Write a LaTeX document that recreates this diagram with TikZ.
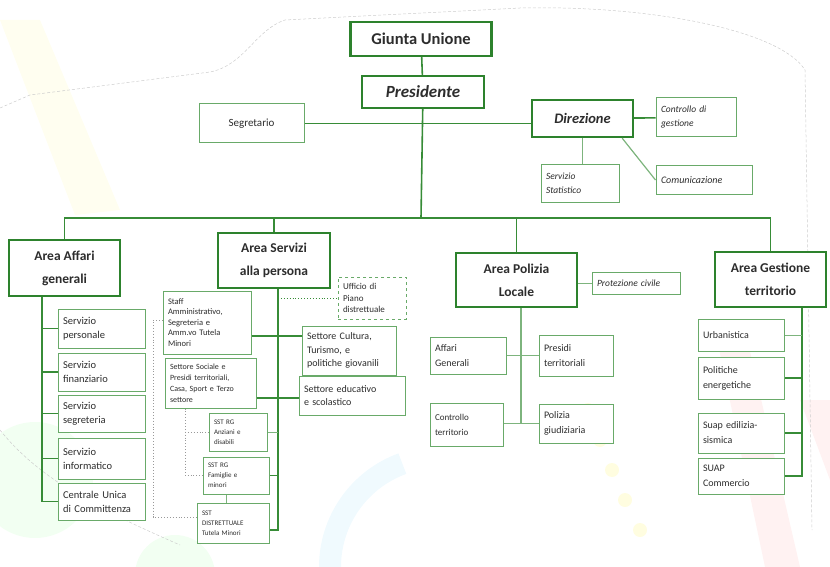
\documentclass[tikz,border=0pt]{standalone}
\usepackage{fontspec}
\setmainfont{Carlito}

\definecolor{gdark}{RGB}{45,130,45}
\definecolor{gline}{RGB}{55,140,55}
\definecolor{glight}{RGB}{105,170,105}
\definecolor{txt}{RGB}{45,45,45}

\begin{document}
\begin{tikzpicture}[x=1pt, y=-1pt,
    bigbox/.style={draw=gdark, line width=2.4pt, fill=white, text=txt, align=center,
        font=\bfseries\fontsize{13.5}{23}\selectfont},
    sbox/.style={draw=glight, line width=1pt, fill=white, text=txt, align=left,
        inner xsep=5pt, inner ysep=2pt},
    wh/.style 2 args={minimum width=#1pt, minimum height=#2pt, text width=#1pt-10pt},
    fs/.style 2 args={font=\fontsize{#1}{#2}\selectfont},
    fsi/.style 2 args={font=\itshape\fontsize{#1}{#2}\selectfont},
    conn/.style={draw=gline, line width=1.6pt},
    thinline/.style={draw=gline!65, line width=0.8pt},
    dotline/.style={draw=gray!80, dotted, line width=0.9pt}]
    \useasboundingbox (0,0) rectangle (830,567);

    % Background
    \fill[yellow!6] (0,20) -- (40,20) -- (120,210) -- (75,215) -- cycle;
    \fill[green!5] (35,480) circle (58pt);
    \fill[green!5] (175,575) circle (40pt);
    \draw[cyan!6, line width=22pt] (330,567) arc (180:110:110pt);
    \fill[red!5] (715,330) -- (745,330) -- (800,567) -- (765,567) -- cycle;
    \fill[red!5] (800,400) -- (830,400) -- (830,480) -- cycle;
    \foreach \p in {(600,440),(612,470),(625,500),(640,530),(588,410)}
        \fill[yellow!12] \p circle (7pt);
    \draw[gray!40, densely dashed, line width=0.5pt]
        (0,108) -- (30,95) -- (210,72) .. controls (245,65) and (255,30) .. (285,20)
        -- (520,8) .. controls (650,5) and (780,30) .. (805,70) -- (812,530);
    \draw[gray!40, densely dashed, line width=0.5pt]
        (0,430) .. controls (40,480) and (100,510) .. (180,545);

    % Nodes
    \node[bigbox, minimum width=141pt, minimum height=34pt, font=\bfseries\fontsize{16.5}{18}\selectfont] (giunta) at (421,39) {Giunta Unione};
    \node[bigbox, minimum width=122pt, minimum height=32pt, font=\bfseries\itshape\fontsize{17}{19}\selectfont] (pres) at (423,92) {Presidente};
    \node[sbox, minimum width=105pt, minimum height=39pt, align=center, fs={11}{13}] (segr) at (251.5,123.5) {Segretario};
    \node[bigbox, minimum width=101pt, minimum height=37pt, font=\bfseries\itshape\fontsize{14.5}{16}\selectfont] (dir) at (582.5,118.5) {Direzione};
    \node[sbox, wh={80}{39}, fsi={9.5}{14}] (cdg) at (696,117.5) {Controllo di\\gestione};
    \node[sbox, wh={78}{37}, fsi={9.5}{14}] (stat) at (580,183.5) {Servizio\\Statistico};
    \node[sbox, wh={96}{28}, fsi={10}{13}] (com) at (704,180) {Comunicazione};

    \node[bigbox, minimum width=111pt, minimum height=56pt] (aag) at (64.5,268) {Area Affari\\generali};
    \node[bigbox, minimum width=112pt, minimum height=55pt] (asp) at (274,260.5) {Area Servizi\\alla persona};
    \node[bigbox, minimum width=121pt, minimum height=54pt] (apl) at (516.5,280) {Area Polizia\\Locale};
    \node[bigbox, minimum width=111pt, minimum height=55pt] (agt) at (770.5,279.5) {Area Gestione\\territorio};

    \node[sbox, wh={87}{39}, fs={10.5}{14}] (spers) at (101.5,328.5) {Servizio\\personale};
    \node[sbox, wh={87}{38}, fs={10.5}{14}] (sfin) at (101.5,372) {Servizio\\finanziario};
    \node[sbox, wh={87}{37}, fs={10.5}{14}] (sseg) at (101.5,413.5) {Servizio\\segreteria};
    \node[sbox, wh={87}{41}, fs={10.5}{14}] (sinf) at (101.5,458.5) {Servizio\\informatico};
    \node[sbox, wh={87}{37}, fs={10.5}{14}] (cuc) at (101.5,501.5) {Centrale Unica\\di Committenza};

    \node[sbox, wh={88}{63}, fs={8.5}{10.5}] (staff) at (207,322.5) {Staff\\Amministrativo,\\Segreteria e\\Amm.vo Tutela\\Minori};
    \node[sbox, wh={68}{42}, fs={9}{11.5}, dashed] (upd) at (372,298) {Ufficio di\\Piano\\distrettuale};
    \node[sbox, wh={94}{49}, fs={10}{13.5}] (scult) at (349,350.5) {Settore Cultura,\\Turismo, e\\politiche giovanili};
    \node[sbox, wh={91}{50}, fs={8}{11}] (ssoc) at (210.5,383) {Settore Sociale e\\Presidi territoriali,\\Casa, Sport e Terzo\\settore};
    \node[sbox, wh={106}{39}, fs={10}{13.5}] (sedu) at (352,395.5) {Settore educativo\\e scolastico};
    \node[sbox, wh={58}{38}, fs={7}{10}] (sanz) at (238,432) {SST RG\\Anziani e\\disabili};
    \node[sbox, wh={66}{37}, fs={7}{10}] (sfam) at (236,475.5) {SST RG\\Famiglie e\\minori};
    \node[sbox, wh={72}{40}, fs={7}{10}] (sdist) at (233,523) {SST\\DISTRETTUALE\\Tutela Minori};

    \node[sbox, wh={88}{22}, fsi={9.5}{11}] (protc) at (636,283) {Protezione civile};
    \node[sbox, wh={76}{37}, fs={10}{15}] (pag) at (468,355.5) {Affari\\Generali};
    \node[sbox, wh={74}{41}, fs={10}{15}] (ppres) at (576,355.5) {Presidi\\territoriali};
    \node[sbox, wh={73}{43}, fs={9}{15}] (pctrl) at (466.5,424.5) {Controllo\\territorio};
    \node[sbox, wh={74}{39}, fs={10}{15}] (pgiu) at (576,423.5) {Polizia\\giudiziaria};

    \node[sbox, wh={86}{32}, fs={10}{15}] (urb) at (741,335) {Urbanistica};
    \node[sbox, wh={86}{42}, fs={10}{15}] (pen) at (741,378) {Politiche\\energetiche};
    \node[sbox, wh={86}{40}, fs={10}{15}] (suap) at (741,433) {Suap edilizia-\\sismica};
    \node[sbox, wh={86}{36}, fs={10}{15}] (suapc) at (741,476) {SUAP\\Commercio};

    \coordinate (bus) at (421,218);
    \coordinate (ag-s) at ([xshift=-22.5pt]aag.south);
    \coordinate (sp-s) at ([xshift=4pt]asp.south);
    \coordinate (pl-s) at ([xshift=4.5pt]apl.south);
    \coordinate (gt-s) at ([xshift=31.5pt]agt.south);
    \coordinate (ss-d) at ([xshift=-25.5pt]ssoc.south);
    \coordinate (m1) at (278,336);
    \coordinate (m2) at (278,398);
    \coordinate (dl) at (153,320);

    % Lines
    \draw[conn] (giunta) -- (pres);
    \draw[conn] (pres) -- (bus);
    \draw[conn] (segr.east) -- (segr.east -| dir.west);
    \draw[conn] (dir) -- (cdg);
    \draw[thinline, line width=1.2pt] (dir.south) -- (stat.north -| dir.south);
    \draw[thinline, line width=1.2pt] ([xshift=-12pt]dir.south east) -- (com.west);
    \draw[conn] (aag.north) -- (aag.north |- bus) -- (agt.north |- bus) -- (agt.north);
    \draw[conn] (asp.north |- bus) -- (asp.north);
    \draw[conn] (apl.north |- bus) -- (apl.north);

    \draw[conn] (ag-s) |- (cuc.west);
    \foreach \n in {spers,sfin,sseg,sinf}
        \draw[conn] (ag-s |- \n.west) -- (\n.west);

    \draw[conn] (sp-s) |- ([yshift=-7pt]sdist.east);
    \draw[dotline, draw=gline] (sp-s |- upd.west) -- (upd.west);
    \draw[conn] (m1 -| staff.east) -- (m1 -| scult.west);
    \draw[conn] (m2 -| ssoc.east) -- (m2 -| sedu.west);
    \draw[thinline] (sp-s |- sanz.east) -- (sanz.east);
    \draw[conn] (sp-s |- sfam.east) -- (sfam.east);
    \draw[thinline] ([xshift=-10pt]sfam.south) -- ([xshift=-10pt]sfam.south |- sdist.north);
    \draw[dotline] (ss-d) |- (sfam.west);
    \draw[dotline] (ss-d |- sanz.west) -- (sanz.west);
    \draw[dotline] (dl -| staff.west) -- (dl) |- ([yshift=6pt]sdist.west);

    \draw[thinline] (apl.east |- protc.west) -- (protc.west);
    \draw[thinline, line width=1.2pt] (pl-s) -- (pl-s |- pgiu.west);
    \draw[thinline, line width=1.2pt] (pag.east) -- (ppres.west);
    \draw[thinline, line width=1.2pt] (pctrl.east |- pgiu.west) -- (pgiu.west);

    \draw[conn] (gt-s) |- (suapc.east);
    \draw[thinline] (gt-s |- urb.east) -- (urb.east);
    \foreach \n in {pen,suap}
        \draw[conn] (gt-s |- \n.east) -- (\n.east);
\end{tikzpicture}
\end{document}
